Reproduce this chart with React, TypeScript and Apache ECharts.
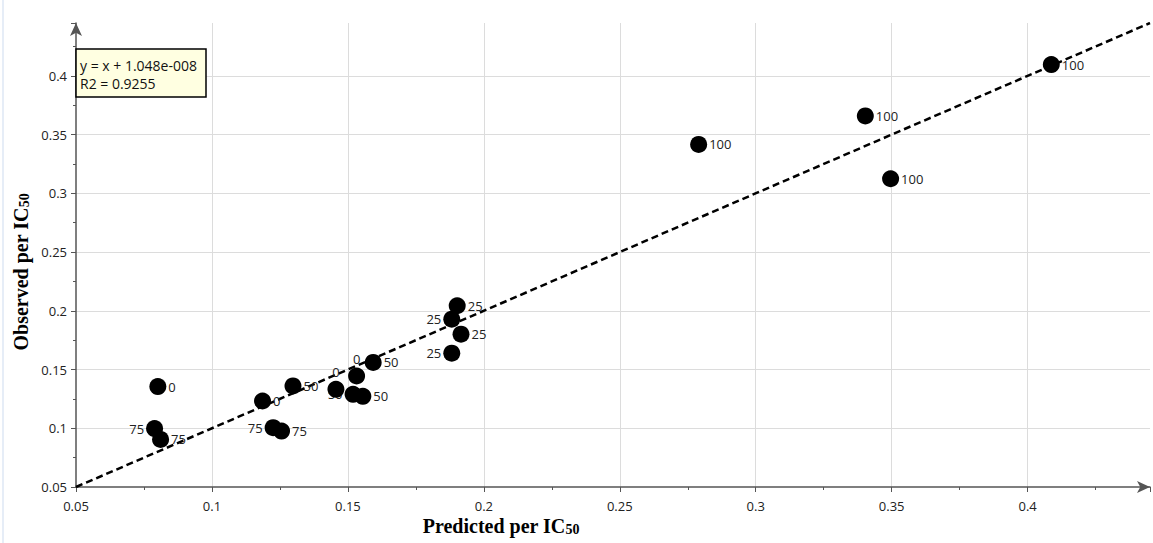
import React, { useEffect, useRef } from "react";
import * as echarts from "echarts";

// Predicted vs observed per IC50
const predicted = [
  0.4087, 0.3403, 0.279, 0.3496, 0.1902, 0.1882, 0.1916, 0.1882, 0.0801, 0.0789,
  0.0811, 0.1186, 0.1225, 0.1256, 0.1298, 0.1456, 0.1532, 0.1593, 0.1519, 0.1555,
];
const observed = [
  0.4096, 0.3659, 0.3416, 0.3124, 0.2043, 0.1929, 0.1801, 0.1639, 0.1355, 0.0997,
  0.0905, 0.1232, 0.1005, 0.0976, 0.136, 0.1332, 0.1445, 0.156, 0.1289, 0.1272,
];
const pointLabels = [
  "100", "100", "100", "100", "25", "25", "25", "25", "0", "75",
  "75", "0", "75", "75", "50", "0", "0", "50", "50", "50",
];
const labelSide = [
  "right", "right", "right", "right", "right", "left", "right", "left", "right", "left",
  "right", "right", "left", "right", "right", "top", "top", "right", "left", "right",
];

const axisMin = 0.05;
const axisMax = 0.445;
const tickStep = 0.05;
const fitSlope = 1;
const fitIntercept = 1.048e-8;
const equationText = "y = x + 1.048e-008";
const r2Text = "R2 = 0.9255";
const xTitle = "Predicted per IC";
const yTitle = "Observed per IC";
const titleSub = "50";

export default function App() {
  const ref = useRef<HTMLDivElement>(null);

  useEffect(() => {
    const chart = echarts.init(ref.current!, null, { renderer: "svg" });
    const font = "'Open Sans', sans-serif";
    const serif = "'Liberation Serif', 'Times New Roman', serif";

    const axis = (isX: boolean) => ({
      type: "value",
      min: axisMin,
      max: axisMax,
      interval: tickStep,
      axisLine: {
        show: true,
        onZero: false,
        symbol: ["none", "arrow"],
        symbolSize: [9, 13],
        lineStyle: { color: "#555", width: 1.5 },
      },
      axisTick: { show: true, length: 5, lineStyle: { color: "#555" } },
      minorTick: { show: true, splitNumber: 2, length: 3, lineStyle: { color: "#555" } },
      splitLine: {
        show: true,
        showMinLine: false,
        showMaxLine: false,
        lineStyle: { color: "#dcdcdc", width: 1 },
      },
      axisLabel: {
        showMaxLabel: false,
        color: "#222",
        fontFamily: font,
        fontSize: 13,
        margin: isX ? 12 : 9,
      },
    });

    const pts = predicted.map((x, i) => [x, observed[i]]);
    const fitData = [axisMin, axisMax].map((x) => [x, fitSlope * x + fitIntercept]);

    const titleRich = {
      t: { fontFamily: serif, fontWeight: "bold", fontSize: 20, fill: "#000" },
      s: { fontFamily: serif, fontWeight: "bold", fontSize: 14, fill: "#000", padding: [6, 0, 0, 0] },
    };

    chart.setOption({
      animation: false,
      backgroundColor: "#fff",
      grid: { left: 76, right: 3, top: 23, bottom: 56, containLabel: false },
      xAxis: axis(true),
      yAxis: axis(false),
      series: [
        {
          type: "line",
          data: fitData,
          showSymbol: false,
          symbol: "none",
          silent: true,
          z: 2,
          lineStyle: { color: "#000", width: 2.5, type: [7, 4] },
        },
        {
          type: "scatter",
          z: 3,
          symbolSize: 17,
          itemStyle: { color: "rgba(0,0,0,0)", opacity: 1 },
          data: pts.map((p, i) => ({
            value: p,
            label: { position: labelSide[i] },
          })),
          label: {
            show: true,
            distance: 2,
            color: "#222",
            fontFamily: font,
            fontSize: 13,
            formatter: (p: any) => pointLabels[p.dataIndex],
          },
        },
        {
          type: "scatter",
          z: 4,
          symbolSize: 17,
          itemStyle: { color: "#000", opacity: 1 },
          data: pts,
        },
      ],
      graphic: [
        {
          type: "rect",
          left: 2,
          top: 0,
          shape: { width: 2, height: 543 },
          style: { fill: "#e6edf7" },
          silent: true,
        },
        {
          type: "rect",
          x: 76,
          y: 49,
          z: 10,
          shape: { width: 130, height: 48 },
          style: { fill: "#ffffe1", stroke: "#000", lineWidth: 1.5 },
        },
        {
          type: "text",
          x: 80,
          y: 65,
          z: 11,
          style: {
            text: equationText,
            fill: "#111",
            font: `14px ${font}`,
            verticalAlign: "middle",
          },
        },
        {
          type: "text",
          x: 80,
          y: 83,
          z: 11,
          style: {
            text: r2Text,
            fill: "#111",
            font: `14px ${font}`,
            verticalAlign: "middle",
          },
        },
        {
          type: "text",
          x: 501,
          y: 526,
          z: 11,
          style: {
            text: `{t|${xTitle}}{s|${titleSub}}`,
            align: "center",
            verticalAlign: "middle",
            rich: titleRich,
          },
        },
        {
          type: "text",
          x: 21,
          y: 272,
          rotation: Math.PI / 2,
          z: 11,
          style: {
            text: `{t|${yTitle}}{s|${titleSub}}`,
            align: "center",
            verticalAlign: "middle",
            rich: titleRich,
          },
        },
      ],
    });

    return () => chart.dispose();
  }, []);

  return (
    <div
      ref={ref}
      style={{ position: "absolute", left: 0, top: 0, width: 1153, height: 543 }}
    />
  );
}
